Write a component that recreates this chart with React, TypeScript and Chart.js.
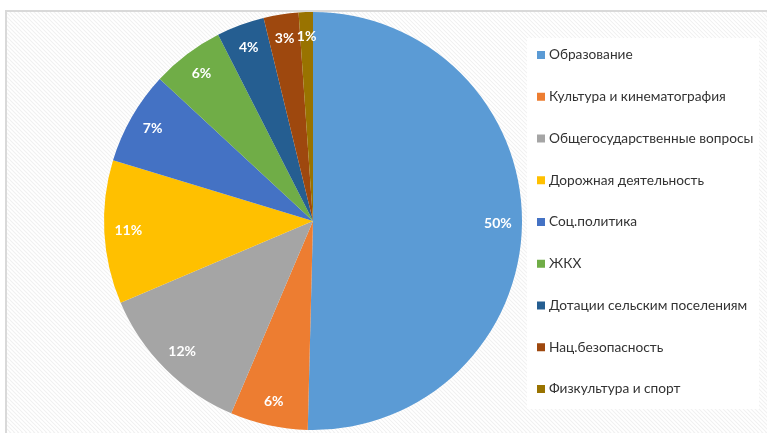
import React, { useEffect, useRef } from "react";
import { Chart, registerables } from "chart.js";

Chart.register(...registerables);

const categories = [
  "Образование",
  "Культура и кинематография",
  "Общегосударственные вопросы",
  "Дорожная деятельность",
  "Соц.политика",
  "ЖКХ",
  "Дотации сельским поселениям",
  "Нац.безопасность",
  "Физкультура и спорт",
];
const values = [50.4, 6.0, 12.2, 11.1, 7.2, 5.6, 3.7, 2.7, 1.1];
const percentLabels = ["50%", "6%", "12%", "11%", "7%", "6%", "4%", "3%", "1%"];
const colors = [
  "#5B9BD5",
  "#ED7D31",
  "#A5A5A5",
  "#FFC000",
  "#4472C4",
  "#70AD47",
  "#255E91",
  "#9E480E",
  "#997300",
];

const FONT = "Lato, 'Open Sans', sans-serif";

const backgroundPlugin = {
  id: "bgPanel",
  beforeDraw(chart: any) {
    const ctx = chart.ctx as CanvasRenderingContext2D;
    const W = chart.width;
    const H = chart.height;
    ctx.save();
    ctx.fillStyle = "#ffffff";
    ctx.fillRect(0, 0, W, H);
    const px = 6, py = 11;
    ctx.fillStyle = "#f1f1f1";
    ctx.fillRect(px, py, W - px, H - py);
    ctx.beginPath();
    ctx.rect(px, py, W - px, H - py);
    ctx.clip();
    ctx.strokeStyle = "#ffffff";
    ctx.lineWidth = 1.8;
    for (let k = -H; k < W + H; k += 4) {
      ctx.beginPath();
      ctx.moveTo(k, py);
      ctx.lineTo(k + (H - py), H);
      ctx.stroke();
    }
    ctx.restore();
    ctx.save();
    ctx.strokeStyle = "#d9d9d9";
    ctx.lineWidth = 2;
    ctx.beginPath();
    ctx.moveTo(px, H);
    ctx.lineTo(px, py);
    ctx.lineTo(W, py);
    ctx.stroke();
    ctx.fillStyle = "#ffffff";
    ctx.fillRect(527, 38, 232, 371);
    ctx.restore();
  },
  afterDatasetsDraw(chart: any) {
    const ctx = chart.ctx as CanvasRenderingContext2D;
    const meta = chart.getDatasetMeta(0);
    ctx.save();
    ctx.fillStyle = "#ffffff";
    ctx.font = `bold 14px ${FONT}`;
    ctx.textAlign = "center";
    ctx.textBaseline = "middle";
    meta.data.forEach((arc: any, i: number) => {
      const p = arc.getProps(["x", "y", "startAngle", "endAngle", "outerRadius"], true);
      const mid = (p.startAngle + p.endAngle) / 2;
      const r = p.outerRadius * 0.885;
      ctx.fillText(percentLabels[i], p.x + Math.cos(mid) * r, p.y + Math.sin(mid) * r);
    });
    ctx.restore();
  },
  afterDraw(chart: any) {
    const ctx = chart.ctx as CanvasRenderingContext2D;
    ctx.save();
    ctx.font = `13.7px ${FONT}`;
    ctx.textBaseline = "middle";
    ctx.textAlign = "left";
    categories.forEach((c, i) => {
      const y = 55 + i * 41.75;
      ctx.fillStyle = colors[i];
      ctx.fillRect(537, y - 4, 8, 8);
      ctx.fillStyle = "#333333";
      ctx.fillText(c, 549, y);
    });
    ctx.restore();
  },
};

export default function App() {
  const ref = useRef<HTMLCanvasElement | null>(null);
  useEffect(() => {
    document.body.style.margin = "0";
    if (!ref.current) return;
    const chart = new Chart(ref.current, {
      type: "pie",
      data: {
        labels: categories,
        datasets: [
          {
            data: values,
            backgroundColor: colors,
            borderWidth: 0,
          },
        ],
      },
      options: {
        animation: false,
        responsive: false,
        layout: { padding: { left: 104, right: 245, top: 12, bottom: 3 } },
        plugins: {
          legend: { display: false },
          tooltip: { enabled: false },
        },
      },
      plugins: [backgroundPlugin],
    });
    return () => chart.destroy();
  }, []);
  return (
    <div style={{ position: "absolute", left: 0, top: 0, width: 767, height: 433 }}>
      <canvas ref={ref} width={767} height={433} style={{ width: 767, height: 433 }} />
    </div>
  );
}
